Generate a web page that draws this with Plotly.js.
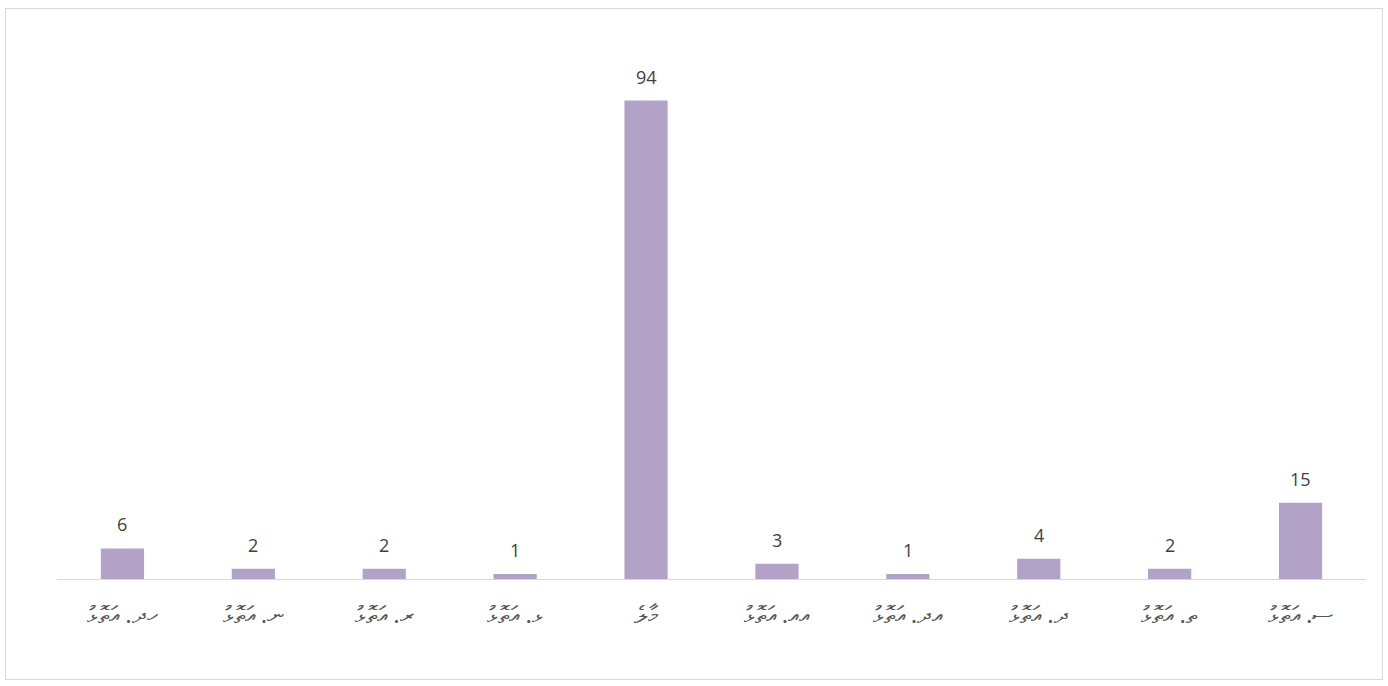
<!DOCTYPE html>
<html>
<head>
<meta charset="utf-8">
<script src="https://cdn.plot.ly/plotly-3.0.1.min.js"></script>
<style>
html,body{margin:0;padding:0;background:#fff;}
#wrap{position:relative;width:1388px;height:686px;}
#chart{width:1388px;height:686px;}
#frame{position:absolute;left:5px;top:8px;width:1376px;height:670px;border:1px solid #d9d9d9;pointer-events:none;}
</style>
</head>
<body>
<div id="wrap"><div id="chart"></div><div id="frame"></div></div>
<script>
const categories = ["ހދ. އަތޮޅު","ނ. އަތޮޅު","ރ. އަތޮޅު","ޅ. އަތޮޅު","މާލެ","އއ. އަތޮޅު","އދ. އަތޮޅު","ދ. އަތޮޅު","ތ. އަތޮޅު","ސ. އަތޮޅު"];
const values = [6, 2, 2, 1, 94, 3, 1, 4, 2, 15];

const trace = {
  type: 'bar',
  x: categories,
  y: values,
  marker: {color: '#b2a2c7'},
  hoverinfo: 'x+y'
};
const annotations = categories.map((c, i) => ({
  x: c, y: values[i], xref: 'x', yref: 'y',
  text: String(values[i]), showarrow: false,
  yanchor: 'bottom', yshift: 10,
  font: {family: '"Open Sans", "Liberation Sans", Arial, sans-serif', size: 18, color: '#404040'}
}));
const layout = {
  width: 1388, height: 686,
  margin: {l: 57, r: 22, t: 70, b: 107},
  paper_bgcolor: '#ffffff', plot_bgcolor: '#ffffff',
  bargap: 0.67,
  showlegend: false,
  xaxis: {
    type: 'category',
    showline: true, linecolor: '#d9d9d9', linewidth: 1,
    ticks: '', showgrid: false,
    ticklabelstandoff: 14,
    tickfont: {family: '"Noto Sans", "DejaVu Sans", sans-serif', size: 24, color: '#595959'}
  },
  yaxis: {
    range: [0, 100], visible: false, showgrid: false, zeroline: false, fixedrange: true
  },
  annotations: annotations
};
Plotly.newPlot('chart', [trace], layout, {displayModeBar: false, staticPlot: true});
</script>
</body>
</html>
